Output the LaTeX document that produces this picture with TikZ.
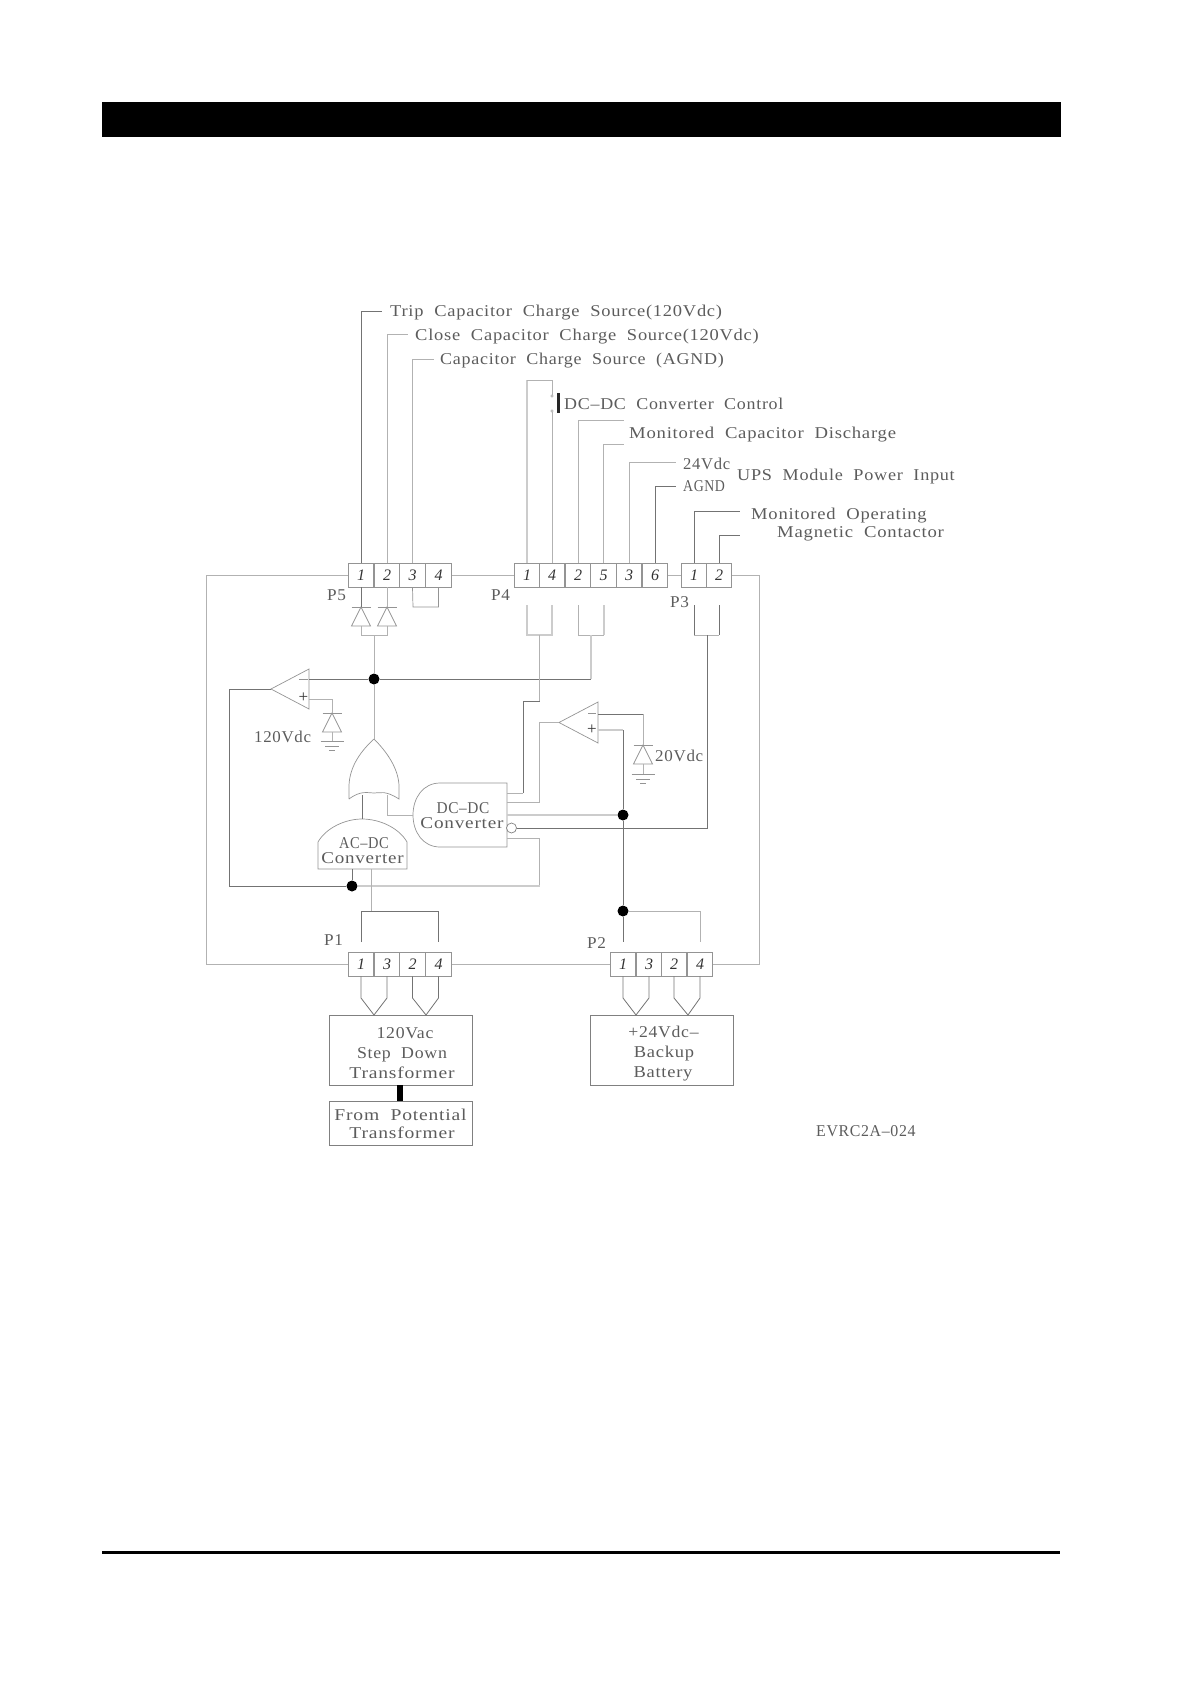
\documentclass[tikz,border=0pt]{standalone}
\usepackage{graphicx}
\usepackage{fontspec}
\setmainfont{Liberation Serif}
\newfontfamily\cadf[LetterSpace=4.5,FakeStretch=1.12,WordSpace=2.0]{Liberation Serif}
\newfontfamily\numf{Liberation Serif}
\usetikzlibrary{calc}
\definecolor{ink}{gray}{0.36}
\newcommand{\sx}[2]{\scalebox{#1}[1]{#2}}
\tikzset{
 wire/.style={draw=black!55,line width=0.8pt},
 lwire/.style={draw=black!30,line width=0.8pt},
 twire/.style={draw=black!20,line width=1.5pt},
 shp/.style={draw=black!42,line width=0.7pt},
 cell/.style={draw=black!42,line width=0.7pt,minimum width=25.6pt,minimum height=24pt,inner sep=0pt,font=\numf\fontsize{16}{16}\selectfont\itshape,text=black!80},
 txt/.style={anchor=west,inner sep=0pt,text=ink,yshift=-1.5pt,font=\cadf\fontsize{16.5}{17}\selectfont},
 ctxt/.style={txt,anchor=center},
 dot/.style={circle,fill=black,draw=none,minimum size=11pt,inner sep=0pt},
 box/.style={draw=black!50,line width=0.8pt,inner sep=0pt},
 bubble/.style={circle,draw=black!50,line width=0.7pt,fill=white,minimum size=10pt,inner sep=0pt},
 sym/.style={inner sep=0pt,text=black!80,font=\numf\fontsize{17}{17}\selectfont},
 diodeup/.pic={
   \draw[shp] (-9.5,0) -- (9.5,0);
   \draw[shp] (0,0) -- (9.5,19) -- (-9.5,19) -- cycle;
   \coordinate (-top) at (0,0);
   \coordinate (-base) at (0,19);
 },
 groundsym/.pic={
   \draw[shp] (-11.5,0) -- (11.5,0);
   \draw[shp] (-7,5) -- (7,5);
   \draw[shp] (-3,9) -- (3,9);
   \coordinate (-top) at (0,0);
 },
}
\begin{document}
\begin{tikzpicture}[x=1pt,y=-1pt]
\useasboundingbox (0,0) rectangle (1190,1684);
\fill[black] (102,102) rectangle (1061,137);
\fill[black] (102,1551) rectangle (1060,1554);

% connectors blocks
\node[cell] (p5a) at (361,575) {1};
\node[cell] (p5b) at (387,575) {2};
\node[cell] (p5c) at (412.5,575) {3};
\node[cell] (p5d) at (438.5,575) {4};
\node[cell] (p4a) at (527,575) {1};
\node[cell] (p4b) at (552,575) {4};
\node[cell] (p4c) at (578,575) {2};
\node[cell] (p4d) at (603.5,575) {5};
\node[cell] (p4e) at (629,575) {3};
\node[cell] (p4f) at (655,575) {6};
\node[cell] (p3a) at (694,575) {1};
\node[cell] (p3b) at (719,575) {2};
\node[cell] (p1a) at (361,964) {1};
\node[cell] (p1b) at (387,964) {3};
\node[cell] (p1c) at (412.5,964) {2};
\node[cell] (p1d) at (438.5,964) {4};
\node[cell] (p2a) at (623,964) {1};
\node[cell] (p2b) at (649,964) {3};
\node[cell] (p2c) at (674,964) {2};
\node[cell] (p2d) at (700,964) {4};

% labels
\node[txt] (l1) at (390,311) {Trip Capacitor Charge Source(120Vdc)};
\node[txt] (l2) at (415,335) {Close Capacitor Charge Source(120Vdc)};
\node[txt] (l3) at (440,359) {\sx{0.974}{Capacitor Charge Source (AGND)}};
\node[txt] (l4) at (564,402) {\sx{0.971}{DC–DC Converter Control}};
\node[txt] (l5) at (629,433) {\sx{1.012}{Monitored Capacitor Discharge}};
\node[txt] (l6) at (683,462) {\sx{0.90}{24Vdc}};
\node[txt] (l7) at (683,485) {\sx{0.75}{AGND}};
\node[txt] (l8) at (737,475) {\sx{0.985}{UPS Module Power Input}};
\node[txt] (l9) at (751,514) {\sx{1.006}{Monitored Operating}};
\node[txt] (l10) at (777,532) {\sx{1.013}{Magnetic Contactor}};
\node[txt] (np5) at (327,594) {\sx{0.93}{P5}};
\node[txt] (np4) at (491,594) {\sx{0.93}{P4}};
\node[txt] (np3) at (670,601) {\sx{0.93}{P3}};
\node[txt] (np1) at (324,939) {\sx{0.93}{P1}};
\node[txt] (np2) at (587,942) {\sx{0.93}{P2}};
\node[txt] (v120) at (254,735) {\sx{0.915}{120Vdc}};
\node[txt] (v20) at (655,754) {\sx{0.92}{20Vdc}};
\node[txt] (code) at (816,1130) {\sx{0.86}{EVRC2A–024}};

% free ends of the outgoing wires
\coordinate (e1) at (382,311);
\coordinate (e2) at (408,334);
\coordinate (e3) at (434,359);
\coordinate (e5) at (624,420);
\coordinate (e6) at (624,444);
\coordinate (e7) at (676,462);
\coordinate (e8) at (676,486);
\coordinate (e9) at (740,511);
\coordinate (e10) at (740,535);
\draw[wire] (p5a.north) |- (e1);
\draw[lwire] (p5b.north) |- (e2);
\draw[lwire] (p5c.north) |- (e3);
\draw[lwire] (p4c.north) |- (e5);
\draw[lwire] (p4d.north) |- (e6);
\draw[lwire] (p4e.north) |- (e7);
\draw[wire] (p4f.north) |- (e8);
\draw[wire] (p3a.north) |- (e9);
\draw[wire] (p3b.north) |- (e10);

% DC-DC control link
\coordinate (ctop1) at (527,380);
\coordinate (ctop2) at (552,380);
\node[circle,draw=black!35,line width=0.4pt,minimum size=2.5pt,inner sep=0pt] (sa) at (552,396) {};
\node[circle,draw=black!35,line width=0.4pt,minimum size=2.5pt,inner sep=0pt] (sb) at (552,411) {};
\draw[twire] (p4a.north) -- (ctop1);
\draw[lwire] (ctop1) -- (ctop2) -- (sa);
\draw[lwire] (sb) -- (p4b.north);
\fill[black!85] (556.5,393) rectangle (559.5,413);

% frame
\coordinate (fa) at (206,575);
\coordinate (fb) at (206,964);
\coordinate (fc) at (759,575);
\coordinate (fd) at (759,964);
\draw[lwire] (p5a.west) -- (fa) -- (fb) -- (p1a.west);
\draw[lwire] (p5d.east) -- (p4a.west);
\draw[lwire] (p4f.east) -- (p3a.west);
\draw[lwire] (p3b.east) -- (fc) -- (fd) -- (p2d.east);
\draw[lwire] (p1d.east) -- (p2a.west);

% P5 diodes
\pic (d1) at (361,607) {diodeup};
\pic (d2) at (387,607) {diodeup};
\coordinate (j5a) at (361,635);
\coordinate (j5b) at (387,635);
\coordinate (j5m) at (374,635);
\draw[wire] (p5a.south) -- (d1-top);
\draw[lwire] (p5b.south) -- (d2-top);
\draw[lwire] (d1-base) -- (j5a) -- (j5b) -- (d2-base);
\coordinate (lk1) at (413,607);
\coordinate (lk2) at (438.5,607);
\draw[shp] (p5c.south) -- (lk1) -- (lk2) -- (p5d.south);

% P4 / P3 lower legs
\coordinate (a1) at (527,605); \coordinate (a2) at (527,635);
\coordinate (b1) at (552,605); \coordinate (b2) at (552,635);
\coordinate (c1) at (578,605); \coordinate (c2) at (578,635);
\coordinate (g1) at (604,605); \coordinate (g2) at (604,635);
\coordinate (h1) at (694,605); \coordinate (h2) at (694,635);
\coordinate (i1) at (719,605); \coordinate (i2) at (719,635);
\draw[twire,line width=1.1pt] (a1) -- (a2) -- (b2) -- (b1);
\draw[lwire] (c1) -- (c2) -- (g2);
\draw[twire,line width=1.1pt] (g1) -- (g2);
\draw[wire] (h1) -- (h2);
\draw[lwire] (h2) -- (i2);
\draw[wire] (i2) -- (i1);

% dots
\node[dot] (dA) at (374,679) {};
\node[dot] (dB) at (623,815) {};
\node[dot] (dC) at (623,911) {};
\node[dot] (dD) at (352,886) {};

% comparators
\coordinate (c1ap) at (271,689);
\draw[shp] (c1ap) -- (309,669) -- (309,709) -- cycle;
\coordinate (c1m) at (309,679);
\coordinate (c1p) at (309,699);
\draw[shp] (299,679.5) -- (308,679.5);
\node[sym] (c1pt) at (303.5,698) {+};
\coordinate (c2ap) at (559,722.5);
\draw[shp] (c2ap) -- (598,702) -- (598,743) -- cycle;
\coordinate (c2m) at (598,714);
\coordinate (c2p) at (598,730);
\draw[shp] (588,713.5) -- (596,713.5);
\node[sym] (c2pt) at (592,730) {+};

% reference diodes
\pic (dr1) at (332,713) {diodeup};
\pic (gr1) at (332,741) {groundsym};
\coordinate (r1c) at (332,699);
\draw[lwire] (c1p) -- (r1c) -- (dr1-top);
\draw[lwire] (dr1-base) -- (gr1-top);
\pic (dr2) at (643,745) {diodeup};
\pic (gr2) at (643,774) {groundsym};
\coordinate (r2c) at (643,714);
\draw[wire] (c2m) -- (r2c);
\draw[lwire] (r2c) -- (dr2-top);
\draw[lwire] (dr2-base) -- (gr2-top);

% OR gate
\coordinate (orap) at (374,739);
\coordinate (orl) at (349,799);
\coordinate (orr) at (399,799);
\draw[shp] (orl) -- (349,785) .. controls (350,765) and (362,750) .. (orap)
  .. controls (387,752) and (398,768) .. (399,785) -- (orr)
  .. controls (385,790) and (380,793) .. (374,793) .. controls (368,793) and (361,790) .. (orl);

% converters
\draw[shp] (507,783) -- (440,783) .. controls (423,783) and (413,798) .. (413,815)
  .. controls (413,832) and (423,847) .. (440,847) -- (507,847) -- cycle;
\node[ctxt] (dc1) at (463,807) {\sx{0.83}{DC–DC}};
\node[ctxt] (dc2) at (462,822) {\sx{1.04}{Converter}};
\draw[shp] (318,869) -- (318,842) .. controls (326,828) and (345,819) .. (362,819)
  .. controls (380,819) and (399,828) .. (407,842) -- (407,869) -- cycle;
\node[ctxt] (ac1) at (364,842) {\sx{0.78}{AC–DC}};
\node[ctxt] (ac2) at (362.5,857) {\sx{1.03}{Converter}};
\node[bubble] (bub) at (511.5,828) {};

% main connections
\draw[lwire] (j5m) -- (dA);
\draw[lwire] (dA) -- (orap);
\coordinate (mB) at (591,679);
\draw[wire] (c1m) -- (dA) -- (mB);
\draw[twire,line width=1.1pt] (mB) -- (591,635);
\coordinate (k1) at (539.5,635);
\coordinate (k2) at (539.5,701);
\coordinate (k3) at (523,701);
\coordinate (k4) at (523,793);
\coordinate (k5) at (507,793);
\draw[lwire] (k1) -- (k2);
\draw[wire] (k2) -- (k3) -- (k4);
\draw[lwire] (k4) -- (k5);
\coordinate (m1) at (507,802);
\coordinate (m2) at (539.5,802);
\coordinate (m3) at (539.5,722.5);
\draw[lwire] (m1) -- (m2) -- (m3) -- (c2ap);
\coordinate (n1) at (507,815);
\draw[twire] (n1) -- (dB);
\draw[wire] (bub) -- (707,828) -- (707,635);
\coordinate (q1) at (507,838);
\coordinate (q2) at (539.5,838);
\coordinate (q3) at (539.5,886);
\coordinate (q4) at (229,886);
\coordinate (q5) at (229,689);
\draw[lwire] (q1) -- (q2) -- (q3);
\draw[twire] (q3) -- (dD);
\draw[wire] (dD) -- (q4) -- (q5) -- (c1ap);
\coordinate (ori1) at (362,795);
\coordinate (ori2) at (387,795);
\coordinate (ori3) at (387,815);
\coordinate (dcl) at (413,815);
\draw[wire] (ori1) -- (362,819);
\draw[lwire] (ori2) -- (ori3) -- (dcl);
\draw[wire] (352,869) -- (dD);
\coordinate (lp1t) at (371,911);
\coordinate (lp1l) at (361,911);
\coordinate (lp1r) at (438.5,911);
\coordinate (lp1lb) at (361,942);
\coordinate (lp1rb) at (438.5,942);
\draw[lwire] (371,869) -- (lp1t);
\draw[wire] (lp1lb) -- (lp1l) -- (lp1r) -- (lp1rb);
\coordinate (plusc) at (623,730);
\draw[twire,line width=1.1pt] (c2p) -- (plusc);
\draw[wire] (plusc) -- (dB) -- (dC);
\coordinate (lp2lb) at (623,942);
\coordinate (lp2c) at (700,911);
\coordinate (lp2rb) at (700,942);
\draw[wire] (dC) -- (lp2lb);
\draw[lwire] (dC) -- (lp2c) -- (lp2rb);

% lower boxes
\node[box,minimum width=143pt,minimum height=70pt] (xf) at (400.5,1050) {};
\node[box,minimum width=143pt,minimum height=44pt] (pt) at (400.5,1123) {};
\node[box,minimum width=143pt,minimum height=70pt] (bt) at (661.5,1050) {};
\node[ctxt] (x1) at (405,1032) {\sx{0.96}{120Vac}};
\node[ctxt] (x2) at (402,1053) {\sx{0.965}{Step Down}};
\node[ctxt] (x3) at (402,1071) {\sx{1.06}{Transformer}};
\node[ctxt] (y1) at (400.5,1113) {\sx{1.06}{From Potential}};
\node[ctxt] (y2) at (402,1131) {\sx{1.06}{Transformer}};
\node[ctxt] (z1) at (663.5,1030) {\sx{0.957}{+24Vdc–}};
\node[ctxt] (z2) at (664,1052) {Backup};
\node[ctxt] (z3) at (663,1072) {Battery};
\fill[black] (397,1085) rectangle (403,1101);

\coordinate (ta) at (374,1015);
\coordinate (tb) at (426,1015);
\coordinate (ua) at (636,1015);
\coordinate (ub) at (688,1015);
\draw[wire] (p1a.south) -- (361,998) -- (ta) -- (387,998) -- (p1b.south);
\draw[wire] (p1c.south) -- (412.5,998) -- (tb) -- (438.5,998) -- (p1d.south);
\draw[wire] (p2a.south) -- (623,998) -- (ua) -- (649,998) -- (p2b.south);
\draw[wire] (p2c.south) -- (674,998) -- (ub) -- (700,998) -- (p2d.south);
\end{tikzpicture}
\end{document}
